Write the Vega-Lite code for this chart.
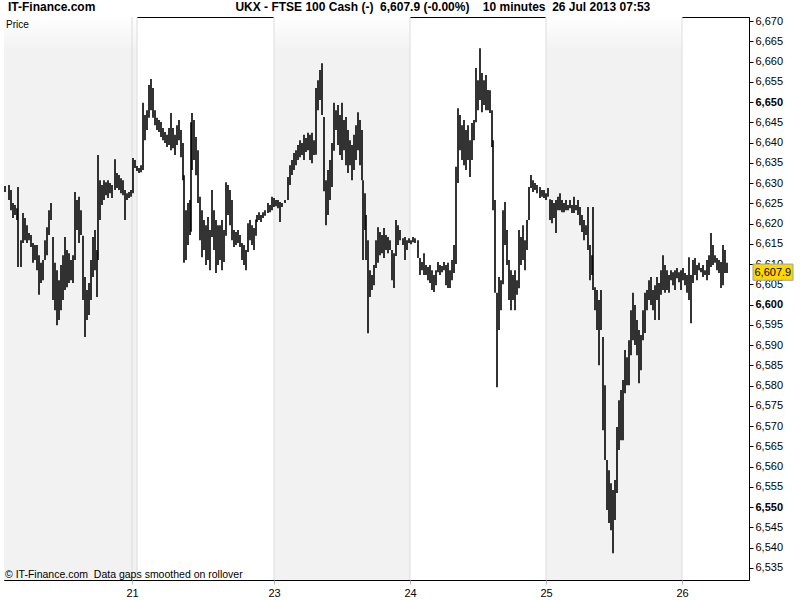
{
  "$schema": "https://vega.github.io/schema/vega-lite/v6.json",
  "width": 745,
  "height": 563,
  "autosize": {"type": "none"},
  "padding": {"top": 17, "left": 4, "right": 51, "bottom": 20},
  "background": "white",
  "title": {
    "text": "IT-Finance.com\u00a0\u00a0\u00a0\u00a0\u00a0\u00a0\u00a0\u00a0\u00a0\u00a0\u00a0\u00a0\u00a0\u00a0\u00a0\u00a0\u00a0\u00a0\u00a0\u00a0\u00a0\u00a0\u00a0\u00a0\u00a0\u00a0\u00a0\u00a0\u00a0\u00a0\u00a0\u00a0\u00a0\u00a0\u00a0\u00a0\u00a0\u00a0\u00a0\u00a0\u00a0\u00a0UKX - FTSE 100 Cash (-)\u00a0\u00a06,607.9 (-0.00%)\u00a0\u00a0\u00a0\u00a010 minutes\u00a0\u00a026 Jul 2013 07:53",
    "anchor": "start",
    "frame": "group",
    "offset": 1,
    "dx": 4,
    "font": "Liberation Sans",
    "fontSize": 12,
    "fontWeight": "bold",
    "color": "black"
  },
  "config": {
    "view": {"stroke": "black", "strokeWidth": 1},
    "font": "Liberation Sans",
    "axis": {"labelOverlap": false, "labelBound": false, "labelFlush": false}
  },
  "datasets": {
    "bands": [{"s": 4, "e": 137}, {"s": 274, "e": 410}, {"s": 546, "e": 682}],
    "days": [{"d": 132}, {"d": 137}, {"d": 274}, {"d": 410}, {"d": 546}, {"d": 682}],
    "bars": [
      {"bar":5,"hi":6629.3,"lo":6627.8},{"bar":9,"hi":6629.5,"lo":6625.8},{"bar":11,"hi":6628.3,"lo":6623.3},{"bar":13,"hi":6625.1,"lo":6621.4},{"bar":15,"hi":6624.6,"lo":6622.1},{"bar":17,"hi":6623.8,"lo":6620.9},{"bar":18,"hi":6629.0,"lo":6609.3},{"bar":21,"hi":6615.9,"lo":6609.3},{"bar":23,"hi":6622.6,"lo":6615.2},{"bar":25,"hi":6621.4,"lo":6615.9},{"bar":27,"hi":6619.6,"lo":6615.2},{"bar":29,"hi":6617.7,"lo":6615.9},{"bar":31,"hi":6617.2,"lo":6614.2},{"bar":33,"hi":6615.2,"lo":6610.3},{"bar":35,"hi":6614.7,"lo":6611.0},{"bar":37,"hi":6614.7,"lo":6608.5},{"bar":39,"hi":6612.2,"lo":6602.4},{"bar":41,"hi":6610.3,"lo":6605.3},{"bar":43,"hi":6611.0,"lo":6606.0},{"bar":45,"hi":6615.9,"lo":6611.0},{"bar":47,"hi":6619.1,"lo":6612.2},{"bar":49,"hi":6623.3,"lo":6617.2},{"bar":51,"hi":6625.1,"lo":6620.9},{"bar":53,"hi":6616.7,"lo":6601.1},{"bar":55,"hi":6610.3,"lo":6598.6},{"bar":57,"hi":6608.5,"lo":6594.9},{"bar":59,"hi":6606.0,"lo":6596.2},{"bar":61,"hi":6609.8,"lo":6598.6},{"bar":63,"hi":6612.2,"lo":6601.1},{"bar":65,"hi":6616.7,"lo":6603.6},{"bar":67,"hi":6613.5,"lo":6604.3},{"bar":69,"hi":6612.7,"lo":6605.3},{"bar":71,"hi":6611.0,"lo":6606.0},{"bar":73,"hi":6612.2,"lo":6605.3},{"bar":75,"hi":6627.8,"lo":6611.0},{"bar":77,"hi":6625.8,"lo":6618.4},{"bar":79,"hi":6626.6,"lo":6615.2},{"bar":81,"hi":6623.3,"lo":6617.2},{"bar":83,"hi":6617.0,"lo":6601.1},{"bar":85,"hi":6606.8,"lo":6592.0},{"bar":87,"hi":6603.6,"lo":6596.2},{"bar":89,"hi":6605.3,"lo":6597.4},{"bar":91,"hi":6611.0,"lo":6601.1},{"bar":93,"hi":6616.7,"lo":6606.8},{"bar":95,"hi":6618.4,"lo":6608.5},{"bar":97,"hi":6613.5,"lo":6601.9},{"bar":98,"hi":6636.9,"lo":6611.0},{"bar":100,"hi":6630.7,"lo":6620.9},{"bar":102,"hi":6629.5,"lo":6624.6},{"bar":104,"hi":6630.7,"lo":6625.8},{"bar":106,"hi":6630.2,"lo":6627.0},{"bar":108,"hi":6630.7,"lo":6626.3},{"bar":110,"hi":6630.0,"lo":6627.5},{"bar":112,"hi":6629.5,"lo":6626.3},{"bar":115,"hi":6635.9,"lo":6628.3},{"bar":117,"hi":6632.5,"lo":6628.8},{"bar":119,"hi":6632.0,"lo":6628.3},{"bar":121,"hi":6631.2,"lo":6627.5},{"bar":123,"hi":6630.7,"lo":6627.0},{"bar":125,"hi":6628.3,"lo":6620.9},{"bar":127,"hi":6627.5,"lo":6625.8},{"bar":129,"hi":6627.8,"lo":6626.3},{"bar":131,"hi":6628.3,"lo":6626.6},
      {"bar":133,"hi":6636.2,"lo":6627.5},{"bar":135,"hi":6635.7,"lo":6633.7},{"bar":137,"hi":6634.2,"lo":6633.0},{"bar":139,"hi":6633.7,"lo":6632.5},{"bar":141,"hi":6634.4,"lo":6632.7},{"bar":143,"hi":6649.8,"lo":6633.2},{"bar":145,"hi":6646.8,"lo":6640.6},{"bar":147,"hi":6648.0,"lo":6643.1},{"bar":149,"hi":6654.2,"lo":6646.1},{"bar":151,"hi":6655.7,"lo":6648.0},{"bar":153,"hi":6653.5,"lo":6646.1},{"bar":155,"hi":6648.0,"lo":6644.3},{"bar":157,"hi":6646.1,"lo":6643.1},{"bar":159,"hi":6645.6,"lo":6642.6},{"bar":161,"hi":6645.1,"lo":6641.4},{"bar":163,"hi":6643.6,"lo":6640.6},{"bar":165,"hi":6642.6,"lo":6639.9},{"bar":167,"hi":6641.9,"lo":6638.9},{"bar":169,"hi":6643.6,"lo":6639.4},{"bar":171,"hi":6647.3,"lo":6638.1},{"bar":173,"hi":6643.6,"lo":6638.6},{"bar":175,"hi":6641.9,"lo":6636.9},{"bar":177,"hi":6644.3,"lo":6639.4},{"bar":179,"hi":6645.6,"lo":6640.6},{"bar":181,"hi":6643.1,"lo":6636.4},{"bar":183,"hi":6639.9,"lo":6630.7},{"bar":184,"hi":6631.9,"lo":6610.3},{"bar":186,"hi":6623.3,"lo":6611.0},{"bar":188,"hi":6625.1,"lo":6614.7},{"bar":190,"hi":6625.8,"lo":6617.2},{"bar":191,"hi":6645.0,"lo":6618.0},{"bar":192,"hi":6647.3,"lo":6633.2},{"bar":194,"hi":6645.6,"lo":6635.7},{"bar":196,"hi":6641.4,"lo":6631.9},{"bar":198,"hi":6638.1,"lo":6625.1},{"bar":200,"hi":6626.6,"lo":6615.9},{"bar":202,"hi":6623.3,"lo":6611.7},{"bar":204,"hi":6620.9,"lo":6613.5},{"bar":206,"hi":6619.6,"lo":6609.8},{"bar":208,"hi":6621.6,"lo":6611.0},{"bar":210,"hi":6618.4,"lo":6608.5},{"bar":212,"hi":6628.3,"lo":6616.7},{"bar":214,"hi":6623.3,"lo":6613.5},{"bar":216,"hi":6620.9,"lo":6607.8},{"bar":218,"hi":6619.6,"lo":6609.8},{"bar":220,"hi":6619.6,"lo":6611.0},{"bar":222,"hi":6620.9,"lo":6608.5},{"bar":224,"hi":6618.4,"lo":6610.5},{"bar":226,"hi":6630.2,"lo":6617.0},{"bar":228,"hi":6629.5,"lo":6622.1},{"bar":230,"hi":6628.3,"lo":6619.6},{"bar":232,"hi":6625.8,"lo":6615.9},{"bar":234,"hi":6618.4,"lo":6614.2},{"bar":236,"hi":6617.9,"lo":6614.7},{"bar":238,"hi":6618.4,"lo":6615.2},{"bar":240,"hi":6617.2,"lo":6614.2},{"bar":242,"hi":6615.2,"lo":6611.0},{"bar":244,"hi":6614.7,"lo":6609.8},{"bar":246,"hi":6613.5,"lo":6608.5},{"bar":248,"hi":6620.1,"lo":6613.0},{"bar":250,"hi":6620.9,"lo":6615.9},{"bar":252,"hi":6619.6,"lo":6614.7},{"bar":254,"hi":6618.9,"lo":6613.5},{"bar":256,"hi":6621.0,"lo":6617.0},{"bar":257,"hi":6622.1,"lo":6620.4},{"bar":259,"hi":6622.8,"lo":6620.9},{"bar":261,"hi":6622.1,"lo":6620.4},{"bar":263,"hi":6622.8,"lo":6621.4},{"bar":265,"hi":6623.3,"lo":6621.9},{"bar":268,"hi":6625.1,"lo":6622.6},{"bar":270,"hi":6624.6,"lo":6622.8},
      {"bar":272,"hi":6626.6,"lo":6623.3},{"bar":274,"hi":6626.3,"lo":6624.1},{"bar":276,"hi":6625.8,"lo":6624.3},{"bar":278,"hi":6625.8,"lo":6623.8},{"bar":280,"hi":6625.3,"lo":6620.4},{"bar":282,"hi":6625.1,"lo":6624.1},{"bar":285,"hi":6625.8,"lo":6625.1},{"bar":288,"hi":6631.5,"lo":6625.8},{"bar":290,"hi":6634.4,"lo":6629.5},{"bar":292,"hi":6635.7,"lo":6632.0},{"bar":294,"hi":6637.4,"lo":6633.2},{"bar":296,"hi":6638.1,"lo":6634.4},{"bar":298,"hi":6639.4,"lo":6635.7},{"bar":300,"hi":6640.6,"lo":6636.4},{"bar":302,"hi":6639.9,"lo":6636.9},{"bar":304,"hi":6641.9,"lo":6635.7},{"bar":306,"hi":6641.1,"lo":6637.7},{"bar":308,"hi":6642.4,"lo":6638.1},{"bar":310,"hi":6641.9,"lo":6635.7},{"bar":312,"hi":6642.4,"lo":6634.9},{"bar":314,"hi":6640.6,"lo":6636.9},{"bar":316,"hi":6653.5,"lo":6637.0},{"bar":318,"hi":6655.4,"lo":6648.0},{"bar":320,"hi":6657.9,"lo":6650.5},{"bar":322,"hi":6659.6,"lo":6646.8},{"bar":324,"hi":6646.3,"lo":6628.0},{"bar":326,"hi":6630.7,"lo":6619.6},{"bar":328,"hi":6633.2,"lo":6622.1},{"bar":330,"hi":6635.7,"lo":6625.8},{"bar":332,"hi":6639.9,"lo":6629.0},{"bar":334,"hi":6649.8,"lo":6638.0},{"bar":336,"hi":6648.0,"lo":6643.1},{"bar":338,"hi":6649.3,"lo":6639.4},{"bar":340,"hi":6646.8,"lo":6636.9},{"bar":342,"hi":6649.8,"lo":6635.7},{"bar":344,"hi":6645.6,"lo":6638.1},{"bar":346,"hi":6646.3,"lo":6634.4},{"bar":348,"hi":6643.1,"lo":6632.5},{"bar":350,"hi":6640.6,"lo":6634.4},{"bar":352,"hi":6639.4,"lo":6630.7},{"bar":354,"hi":6641.9,"lo":6633.2},{"bar":356,"hi":6644.3,"lo":6635.7},{"bar":358,"hi":6647.5,"lo":6638.1},{"bar":360,"hi":6645.6,"lo":6634.4},{"bar":362,"hi":6643.1,"lo":6630.7},{"bar":363,"hi":6630.7,"lo":6611.0},{"bar":365,"hi":6627.5,"lo":6618.4},{"bar":366,"hi":6622.1,"lo":6611.0},{"bar":368,"hi":6615.9,"lo":6592.9},{"bar":370,"hi":6608.5,"lo":6601.9},{"bar":372,"hi":6607.3,"lo":6603.6},{"bar":374,"hi":6609.8,"lo":6604.8},{"bar":376,"hi":6615.9,"lo":6609.0},{"bar":378,"hi":6619.1,"lo":6610.3},{"bar":380,"hi":6617.9,"lo":6612.2},{"bar":382,"hi":6617.2,"lo":6612.7},{"bar":384,"hi":6618.9,"lo":6611.5},{"bar":386,"hi":6617.2,"lo":6613.5},{"bar":388,"hi":6616.7,"lo":6612.7},{"bar":390,"hi":6615.9,"lo":6613.5},{"bar":392,"hi":6613.5,"lo":6606.0},{"bar":394,"hi":6612.7,"lo":6604.1},{"bar":396,"hi":6620.9,"lo":6612.0},{"bar":398,"hi":6619.6,"lo":6614.7},{"bar":400,"hi":6618.4,"lo":6615.9},{"bar":403,"hi":6616.4,"lo":6614.7},{"bar":405,"hi":6616.7,"lo":6611.0},{"bar":407,"hi":6615.9,"lo":6613.5},
      {"bar":409,"hi":6616.4,"lo":6615.2},{"bar":411,"hi":6615.9,"lo":6614.9},{"bar":413,"hi":6616.7,"lo":6615.4},{"bar":415,"hi":6616.4,"lo":6615.2},{"bar":418,"hi":6615.9,"lo":6611.5},{"bar":420,"hi":6611.5,"lo":6607.3},{"bar":422,"hi":6610.5,"lo":6608.5},{"bar":424,"hi":6612.7,"lo":6607.3},{"bar":426,"hi":6609.8,"lo":6607.3},{"bar":428,"hi":6609.3,"lo":6606.0},{"bar":430,"hi":6609.8,"lo":6605.3},{"bar":432,"hi":6608.5,"lo":6603.6},{"bar":434,"hi":6607.3,"lo":6603.1},{"bar":436,"hi":6608.5,"lo":6604.8},{"bar":438,"hi":6610.5,"lo":6608.0},{"bar":440,"hi":6609.8,"lo":6607.3},{"bar":442,"hi":6609.5,"lo":6608.0},{"bar":444,"hi":6610.5,"lo":6608.5},{"bar":446,"hi":6609.8,"lo":6604.8},{"bar":448,"hi":6610.3,"lo":6604.1},{"bar":450,"hi":6608.5,"lo":6604.1},{"bar":452,"hi":6611.0,"lo":6606.0},{"bar":454,"hi":6614.7,"lo":6607.8},{"bar":456,"hi":6634.0,"lo":6610.0},{"bar":458,"hi":6648.5,"lo":6630.0},{"bar":460,"hi":6646.8,"lo":6638.1},{"bar":462,"hi":6644.3,"lo":6635.7},{"bar":464,"hi":6645.6,"lo":6634.4},{"bar":466,"hi":6643.1,"lo":6633.2},{"bar":468,"hi":6644.3,"lo":6635.7},{"bar":470,"hi":6640.6,"lo":6631.5},{"bar":472,"hi":6644.8,"lo":6635.7},{"bar":474,"hi":6645.6,"lo":6640.6},{"bar":476,"hi":6658.4,"lo":6645.0},{"bar":478,"hi":6655.4,"lo":6648.0},{"bar":480,"hi":6663.3,"lo":6650.5},{"bar":482,"hi":6657.2,"lo":6647.5},{"bar":484,"hi":6655.4,"lo":6649.3},{"bar":486,"hi":6656.7,"lo":6648.0},{"bar":488,"hi":6653.0,"lo":6648.0},{"bar":490,"hi":6652.9,"lo":6647.3},{"bar":492,"hi":6648.0,"lo":6638.9},{"bar":493,"hi":6640.6,"lo":6623.3},{"bar":495,"hi":6625.8,"lo":6602.9},{"bar":497,"hi":6602.9,"lo":6579.6},{"bar":499,"hi":6606.8,"lo":6593.7},{"bar":501,"hi":6606.0,"lo":6598.6},{"bar":503,"hi":6623.3,"lo":6605.0},{"bar":505,"hi":6625.3,"lo":6614.7},{"bar":507,"hi":6618.4,"lo":6609.8},{"bar":509,"hi":6611.0,"lo":6601.1},{"bar":511,"hi":6608.5,"lo":6598.6},{"bar":513,"hi":6607.3,"lo":6601.1},{"bar":515,"hi":6608.5,"lo":6598.6},{"bar":517,"hi":6606.0,"lo":6602.4},{"bar":519,"hi":6618.4,"lo":6604.0},{"bar":521,"hi":6616.7,"lo":6609.8},{"bar":523,"hi":6619.6,"lo":6611.0},{"bar":525,"hi":6615.9,"lo":6608.5},{"bar":527,"hi":6620.9,"lo":6613.5},{"bar":529,"hi":6629.0,"lo":6620.9},{"bar":531,"hi":6632.0,"lo":6628.8},{"bar":533,"hi":6630.7,"lo":6627.8},{"bar":535,"hi":6630.0,"lo":6628.3},{"bar":537,"hi":6629.5,"lo":6627.5},{"bar":540,"hi":6629.0,"lo":6626.3},{"bar":542,"hi":6628.3,"lo":6626.6},{"bar":544,"hi":6628.3,"lo":6626.3},
      {"bar":546,"hi":6627.5,"lo":6625.8},{"bar":548,"hi":6628.8,"lo":6626.6},{"bar":550,"hi":6626.0,"lo":6620.9},{"bar":552,"hi":6625.8,"lo":6620.1},{"bar":554,"hi":6625.1,"lo":6621.4},{"bar":556,"hi":6625.8,"lo":6617.7},{"bar":558,"hi":6626.6,"lo":6623.3},{"bar":560,"hi":6627.5,"lo":6623.3},{"bar":562,"hi":6625.8,"lo":6622.8},{"bar":564,"hi":6625.1,"lo":6622.8},{"bar":566,"hi":6625.8,"lo":6623.3},{"bar":568,"hi":6624.6,"lo":6623.3},{"bar":570,"hi":6625.8,"lo":6623.8},{"bar":572,"hi":6624.6,"lo":6622.6},{"bar":574,"hi":6626.6,"lo":6622.6},{"bar":576,"hi":6624.6,"lo":6623.3},{"bar":578,"hi":6625.8,"lo":6622.1},{"bar":580,"hi":6624.1,"lo":6619.6},{"bar":582,"hi":6622.1,"lo":6617.9},{"bar":584,"hi":6620.9,"lo":6615.9},{"bar":586,"hi":6619.6,"lo":6617.2},{"bar":588,"hi":6624.1,"lo":6613.5},{"bar":590,"hi":6614.7,"lo":6606.0},{"bar":592,"hi":6612.2,"lo":6607.3},{"bar":593,"hi":6624.1,"lo":6603.6},{"bar":595,"hi":6604.3,"lo":6598.6},{"bar":597,"hi":6603.6,"lo":6593.7},{"bar":599,"hi":6601.1,"lo":6585.0},{"bar":601,"hi":6603.6,"lo":6593.7},{"bar":603,"hi":6592.0,"lo":6569.0},{"bar":605,"hi":6580.1,"lo":6561.6},{"bar":607,"hi":6561.6,"lo":6549.3},{"bar":609,"hi":6559.1,"lo":6546.1},{"bar":611,"hi":6555.9,"lo":6544.3},{"bar":613,"hi":6554.2,"lo":6538.6},{"bar":615,"hi":6556.7,"lo":6546.8},{"bar":617,"hi":6569.8,"lo":6553.5},{"bar":619,"hi":6576.4,"lo":6564.1},{"bar":621,"hi":6578.9,"lo":6566.5},{"bar":623,"hi":6581.4,"lo":6566.5},{"bar":625,"hi":6588.8,"lo":6578.1},{"bar":627,"hi":6587.0,"lo":6580.1},{"bar":629,"hi":6591.2,"lo":6580.1},{"bar":631,"hi":6598.6,"lo":6587.5},{"bar":633,"hi":6602.9,"lo":6591.2},{"bar":635,"hi":6599.9,"lo":6590.0},{"bar":637,"hi":6596.2,"lo":6587.5},{"bar":639,"hi":6593.7,"lo":6580.6},{"bar":641,"hi":6592.5,"lo":6583.8},{"bar":643,"hi":6598.6,"lo":6591.2},{"bar":645,"hi":6602.9,"lo":6593.0},{"bar":647,"hi":6603.6,"lo":6598.6},{"bar":649,"hi":6606.0,"lo":6601.1},{"bar":651,"hi":6606.8,"lo":6599.9},{"bar":653,"hi":6603.6,"lo":6598.6},{"bar":655,"hi":6604.8,"lo":6596.2},{"bar":657,"hi":6606.8,"lo":6601.1},{"bar":659,"hi":6605.3,"lo":6596.2},{"bar":661,"hi":6608.5,"lo":6602.4},{"bar":663,"hi":6612.2,"lo":6603.6},{"bar":665,"hi":6609.8,"lo":6602.9},{"bar":667,"hi":6608.5,"lo":6603.6},{"bar":669,"hi":6607.3,"lo":6602.9},{"bar":671,"hi":6608.5,"lo":6606.0},{"bar":673,"hi":6608.0,"lo":6604.8},{"bar":675,"hi":6608.5,"lo":6603.6},{"bar":677,"hi":6609.0,"lo":6606.5},{"bar":679,"hi":6608.0,"lo":6605.5},{"bar":681,"hi":6608.5,"lo":6603.6},
      {"bar":683,"hi":6609.0,"lo":6606.0},{"bar":685,"hi":6607.8,"lo":6604.8},{"bar":687,"hi":6607.3,"lo":6602.9},{"bar":689,"hi":6611.7,"lo":6601.1},{"bar":691,"hi":6607.3,"lo":6595.4},{"bar":693,"hi":6611.0,"lo":6605.3},{"bar":695,"hi":6611.5,"lo":6607.3},{"bar":697,"hi":6609.8,"lo":6606.0},{"bar":699,"hi":6610.3,"lo":6608.5},{"bar":701,"hi":6609.0,"lo":6608.0},{"bar":703,"hi":6609.8,"lo":6606.8},{"bar":705,"hi":6608.5,"lo":6607.3},{"bar":707,"hi":6611.0,"lo":6606.0},{"bar":709,"hi":6612.2,"lo":6607.3},{"bar":711,"hi":6617.7,"lo":6609.3},{"bar":713,"hi":6614.7,"lo":6609.8},{"bar":715,"hi":6612.2,"lo":6610.3},{"bar":717,"hi":6611.5,"lo":6608.5},{"bar":719,"hi":6611.0,"lo":6607.8},{"bar":721,"hi":6610.5,"lo":6604.1},{"bar":723,"hi":6614.7,"lo":6604.8},{"bar":725,"hi":6613.5,"lo":6607.8},{"bar":727,"hi":6610.3,"lo":6607.8}
    ]
  },
  "layer": [
    {
      "data": {"name": "bands"},
      "mark": {"type": "rect", "color": {"gradient": "linear", "x1": 0, "y1": 0, "x2": 0, "y2": 1, "stops": [{"offset": 0, "color": "#ffffff"}, {"offset": 0.06, "color": "#f2f2f2"}, {"offset": 1, "color": "#f2f2f2"}]}},
      "encoding": {
        "x": {"field": "s", "type": "quantitative", "scale": {"domain": [4, 749], "nice": false, "zero": false},
          "axis": {"orient": "bottom", "values": [132, 274, 410, 546, 682], "tickCount": 10, "labelExpr": "datum.value == 132 ? '21' : datum.value == 274 ? '23' : datum.value == 410 ? '24' : datum.value == 546 ? '25' : '26'", "domain": false, "grid": false, "tickColor": "#bbbbbb", "tickSize": 4, "labelFont": "Liberation Sans", "labelFontSize": 11, "labelColor": "black", "labelPadding": 3, "title": null}},
        "x2": {"field": "e"}
      }
    },
    {
      "data": {"name": "days"},
      "mark": {"type": "rule", "color": "#dcdcdc", "strokeWidth": 1},
      "encoding": {"x": {"field": "d", "type": "quantitative"}}
    },
    {
      "data": {"name": "bars"},
      "mark": {"type": "rule", "color": "black", "strokeWidth": 1.6},
      "encoding": {
        "x": {"field": "bar", "type": "quantitative"},
        "y": {"field": "hi", "type": "quantitative", "scale": {"domain": [6532, 6671], "nice": false, "zero": false},
          "axis": {"orient": "right", "values": [6535, 6540, 6545, 6550, 6555, 6560, 6565, 6570, 6575, 6580, 6585, 6590, 6595, 6600, 6605, 6610, 6615, 6620, 6625, 6630, 6635, 6640, 6645, 6650, 6655, 6660, 6665, 6670], "tickCount": 40, "format": ",d", "labelFontWeight": {"condition": {"test": "datum.value % 50 === 0", "value": "bold"}, "value": "normal"}, "grid": false, "domain": true, "domainColor": "black", "tickColor": "black", "tickSize": 4, "labelFont": "Liberation Sans", "labelFontSize": 11, "labelColor": "black", "labelPadding": 2, "labelOverlap": false, "labelBound": false, "title": null}},
        "y2": {"field": "lo"}
      }
    },
    {
      "data": {"values": [{}]},
      "mark": {"type": "text", "text": "Price", "align": "left", "baseline": "middle", "font": "Liberation Sans", "fontSize": 10, "color": "black"},
      "encoding": {"x": {"datum": 6}, "y": {"datum": 6669}}
    },
    {
      "data": {"values": [{}]},
      "mark": {"type": "text", "text": "© IT-Finance.com\u00a0 Data gaps smoothed on rollover", "align": "left", "baseline": "middle", "font": "Liberation Sans", "fontSize": 10.5, "color": "black"},
      "encoding": {"x": {"datum": 5}, "y": {"datum": 6533.3}}
    },
    {
      "data": {"values": [{}]},
      "mark": {"type": "rect", "fill": "#ffd700", "stroke": "#a0a0a0", "strokeWidth": 1},
      "encoding": {"x": {"datum": 753}, "x2": {"datum": 793}, "y": {"datum": 6610.0}, "y2": {"datum": 6606.0}}
    },
    {
      "data": {"values": [{}]},
      "mark": {"type": "text", "text": "6,607.9", "align": "left", "baseline": "middle", "font": "Liberation Sans", "fontSize": 11, "color": "black"},
      "encoding": {"x": {"datum": 754.5}, "y": {"datum": 6607.9}}
    }
  ]
}
